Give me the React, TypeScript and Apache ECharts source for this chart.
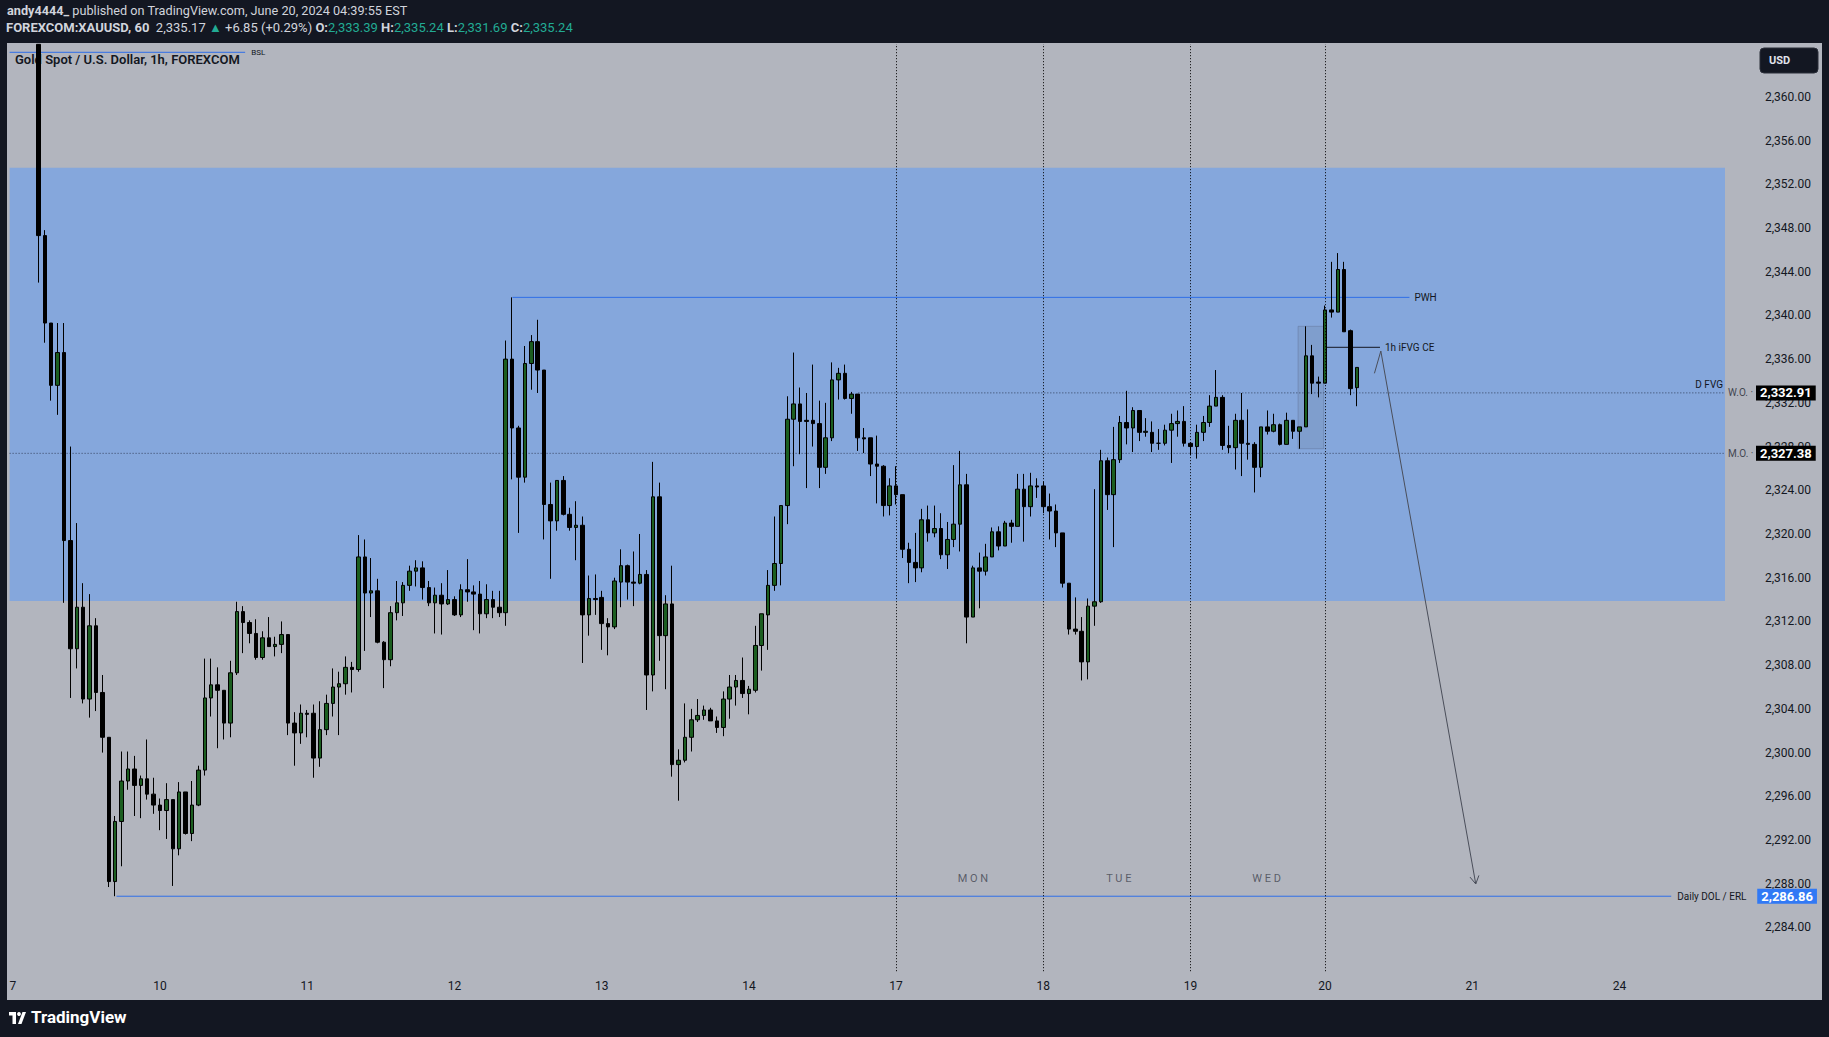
import React, { useEffect, useRef } from 'react';
import * as echarts from 'echarts';

// ---- hourly candles per session: [open, high, low, close] ----
const jun07 = [
  [2364.8, 2364.83, 2343.0, 2347.3], [2347.3, 2347.8, 2337.5, 2339.3], [2339.3, 2339.3, 2332.2, 2333.6],
  [2333.6, 2339.3, 2330.9, 2336.6], [2336.6, 2339.3, 2313.7, 2319.4], [2319.4, 2328.0, 2305.0, 2309.5],
  [2309.5, 2321.0, 2307.7, 2313.3], [2313.3, 2315.5, 2304.5, 2304.9], [2304.9, 2314.5, 2303.2, 2311.6],
  [2311.6, 2312.3, 2303.8, 2305.5], [2305.5, 2307.1, 2300.0, 2301.4], [2301.4, 2301.4, 2287.7, 2288.2],
  [2288.2, 2294.2, 2286.86, 2293.7], [2293.7, 2300.1, 2289.6, 2297.4], [2297.4, 2300.1, 2296.6, 2298.5],
  [2298.5, 2299.7, 2294.2, 2297.0], [2297.0, 2297.9, 2294.0, 2297.6], [2297.6, 2301.2, 2295.7, 2296.2],
  [2296.2, 2297.7, 2294.4, 2295.2],
];
const jun10 = [
  [2295.2, 2295.8, 2292.9, 2294.7], [2294.7, 2297.2, 2292.1, 2295.7], [2295.7, 2295.7, 2287.8, 2291.2],
  [2291.2, 2297.3, 2290.6, 2296.4], [2296.4, 2296.4, 2292.5, 2292.6], [2292.6, 2297.4, 2291.9, 2295.2],
  [2295.2, 2298.8, 2295.1, 2298.4], [2298.4, 2308.6, 2297.9, 2305.0], [2305.0, 2308.6, 2303.3, 2306.2],
  [2306.2, 2307.8, 2300.4, 2305.7], [2305.7, 2305.7, 2301.2, 2302.7], [2302.7, 2308.4, 2301.4, 2307.3],
  [2307.3, 2313.8, 2307.1, 2312.9], [2312.9, 2313.4, 2309.1, 2311.9], [2311.9, 2312.1, 2310.0, 2310.9],
  [2310.9, 2312.2, 2308.5, 2308.7], [2308.7, 2311.1, 2308.5, 2310.5], [2310.5, 2312.4, 2309.7, 2309.7],
  [2309.7, 2310.6, 2308.8, 2309.9], [2309.9, 2312.0, 2309.1, 2310.8], [2310.8, 2310.8, 2301.6, 2302.7],
  [2302.7, 2303.7, 2298.8, 2301.8], [2301.8, 2304.4, 2300.8, 2303.6],
];
const jun11 = [
  [2303.6, 2303.9, 2301.4, 2303.5], [2303.6, 2304.4, 2297.7, 2299.5], [2299.5, 2304.7, 2298.7, 2302.1],
  [2302.1, 2305.3, 2301.6, 2304.5], [2304.5, 2307.7, 2303.3, 2306.0], [2306.0, 2307.4, 2301.6, 2306.3],
  [2306.3, 2308.8, 2305.3, 2307.8], [2307.8, 2308.3, 2305.5, 2307.6], [2307.6, 2319.9, 2307.4, 2317.9],
  [2317.9, 2319.5, 2309.3, 2314.6], [2314.6, 2317.8, 2312.4, 2314.8], [2314.8, 2315.9, 2310.0, 2310.1],
  [2310.1, 2310.2, 2305.9, 2308.5], [2308.5, 2313.4, 2307.9, 2312.8], [2312.8, 2315.7, 2312.1, 2313.7],
  [2313.7, 2315.6, 2312.5, 2315.3], [2315.3, 2317.1, 2314.8, 2316.6], [2316.6, 2317.6, 2315.2, 2316.9],
  [2316.9, 2317.5, 2314.0, 2315.1], [2315.1, 2315.7, 2313.4, 2313.7], [2313.7, 2315.1, 2310.9, 2314.4],
  [2314.4, 2315.5, 2310.8, 2313.6], [2313.6, 2316.7, 2313.5, 2314.0],
];
const jun12 = [
  [2314.0, 2314.3, 2312.5, 2312.6], [2312.6, 2315.4, 2312.4, 2314.9], [2314.9, 2317.7, 2313.8, 2314.7],
  [2314.7, 2315.3, 2311.2, 2314.5], [2314.5, 2315.7, 2310.9, 2312.7], [2312.7, 2315.4, 2312.3, 2314.0],
  [2314.0, 2314.8, 2312.3, 2313.3], [2313.3, 2314.8, 2312.4, 2312.8], [2312.8, 2337.7, 2311.6, 2336.0],
  [2336.0, 2341.65, 2325.0, 2329.7], [2329.7, 2329.9, 2320.1, 2325.2], [2325.2, 2337.2, 2324.7, 2335.6],
  [2335.6, 2338.2, 2333.2, 2337.6], [2337.6, 2339.6, 2332.9, 2335.0], [2335.0, 2335.0, 2319.5, 2322.7],
  [2322.7, 2324.7, 2315.9, 2321.2], [2321.2, 2324.9, 2320.3, 2324.9], [2324.9, 2325.3, 2321.7, 2321.8],
  [2321.8, 2322.4, 2320.3, 2320.6], [2320.6, 2323.0, 2317.6, 2320.8], [2320.8, 2321.6, 2308.2, 2312.6],
  [2312.6, 2316.2, 2310.7, 2314.1], [2314.1, 2316.3, 2312.6, 2314.0],
];
const jun13 = [
  [2314.2, 2314.8, 2309.4, 2311.8], [2311.8, 2312.3, 2308.9, 2311.5], [2311.5, 2316.0, 2311.3, 2315.7],
  [2315.6, 2318.6, 2313.3, 2317.1], [2317.1, 2317.2, 2314.0, 2315.6], [2315.6, 2318.4, 2313.4, 2315.5],
  [2315.5, 2320.0, 2315.4, 2316.3], [2316.3, 2316.7, 2303.9, 2307.1], [2307.1, 2326.6, 2305.6, 2323.4],
  [2323.4, 2324.7, 2308.4, 2310.7], [2310.7, 2314.4, 2305.8, 2313.6], [2313.6, 2317.1, 2297.8, 2298.9],
  [2298.9, 2300.3, 2295.6, 2299.3], [2299.3, 2304.5, 2299.1, 2301.4], [2301.4, 2304.0, 2300.1, 2303.0],
  [2303.0, 2304.9, 2302.8, 2303.4], [2303.4, 2304.3, 2303.0, 2303.9], [2303.9, 2304.1, 2302.9, 2302.9],
  [2302.9, 2303.3, 2301.8, 2302.3], [2302.3, 2305.6, 2301.5, 2304.9], [2304.9, 2307.1, 2303.1, 2306.0],
  [2306.0, 2307.1, 2304.3, 2306.6], [2306.6, 2308.7, 2305.0, 2305.4],
];
const jun14 = [
  [2305.4, 2306.1, 2303.5, 2305.8], [2305.7, 2311.6, 2305.5, 2309.8], [2309.8, 2312.7, 2307.5, 2312.7],
  [2312.6, 2316.7, 2309.4, 2315.3], [2315.3, 2321.6, 2314.8, 2317.3], [2317.3, 2322.6, 2315.3, 2322.6],
  [2322.6, 2332.6, 2320.9, 2330.5], [2330.5, 2336.6, 2326.2, 2331.9], [2331.9, 2333.4, 2327.3, 2330.3],
  [2330.4, 2332.9, 2324.2, 2330.3], [2330.4, 2335.5, 2328.0, 2330.1], [2330.1, 2332.2, 2324.2, 2326.1],
  [2326.1, 2332.0, 2325.5, 2328.8], [2328.8, 2335.7, 2328.5, 2334.1], [2334.1, 2335.2, 2332.3, 2334.7],
  [2334.7, 2335.5, 2332.3, 2332.4], [2332.4, 2333.0, 2331.0, 2332.8], [2332.8, 2332.8, 2327.6, 2328.8],
  [2328.8, 2329.7, 2327.4, 2328.7], [2328.8, 2328.8, 2325.3, 2326.4], [2326.4, 2329.0, 2322.8, 2326.2],
  [2326.2, 2326.3, 2321.6, 2322.6], [2322.6, 2325.1, 2321.7, 2324.4],
];
const jun17 = [
  [2324.4, 2326.2, 2322.7, 2323.6], [2323.6, 2323.6, 2317.8, 2318.6], [2318.6, 2319.2, 2315.5, 2317.4],
  [2317.4, 2320.1, 2315.6, 2316.9], [2316.9, 2322.3, 2316.5, 2321.3], [2321.3, 2322.6, 2319.3, 2320.1],
  [2320.1, 2322.6, 2319.7, 2320.5], [2320.5, 2321.9, 2317.7, 2318.1], [2318.1, 2321.1, 2316.8, 2319.5],
  [2319.5, 2326.3, 2318.8, 2320.9], [2320.9, 2327.6, 2318.4, 2324.5], [2324.5, 2325.5, 2310.0, 2312.4],
  [2312.4, 2317.1, 2312.4, 2316.9], [2316.9, 2318.3, 2313.2, 2316.6], [2316.6, 2319.1, 2316.2, 2317.9],
  [2317.9, 2320.6, 2317.9, 2320.2], [2320.2, 2320.7, 2318.5, 2318.9], [2318.9, 2321.2, 2318.9, 2321.0],
  [2321.0, 2321.3, 2319.2, 2320.7], [2320.7, 2325.5, 2320.7, 2324.1], [2324.1, 2325.5, 2319.3, 2322.5],
  [2322.5, 2325.6, 2321.6, 2324.4], [2324.4, 2325.1, 2323.3, 2324.3],
];
const jun18 = [
  [2324.4, 2324.8, 2321.9, 2322.5], [2322.5, 2323.7, 2319.5, 2322.1], [2322.1, 2322.7, 2318.8, 2320.1],
  [2320.1, 2320.1, 2315.1, 2315.5], [2315.5, 2315.5, 2310.8, 2311.3], [2311.3, 2314.2, 2310.8, 2311.1],
  [2311.1, 2312.4, 2306.6, 2308.3], [2308.3, 2314.1, 2306.7, 2313.4], [2313.4, 2324.1, 2311.6, 2313.8],
  [2313.8, 2327.7, 2313.7, 2326.7], [2326.7, 2327.0, 2322.2, 2323.6], [2323.6, 2329.8, 2318.8, 2326.8],
  [2326.8, 2330.8, 2326.5, 2330.2], [2330.2, 2333.1, 2328.2, 2329.7], [2329.7, 2331.6, 2327.5, 2331.3],
  [2331.3, 2331.3, 2328.5, 2329.3], [2329.3, 2330.6, 2328.9, 2329.4], [2329.3, 2330.3, 2327.5, 2328.3],
  [2328.3, 2329.6, 2327.7, 2328.3], [2328.3, 2330.0, 2328.1, 2329.5], [2329.5, 2331.0, 2326.5, 2330.1],
  [2330.1, 2331.3, 2328.9, 2330.3], [2330.3, 2331.7, 2328.0, 2328.3],
];
const jun19 = [
  [2328.3, 2328.4, 2327.2, 2328.0], [2328.0, 2330.0, 2326.9, 2329.3], [2329.3, 2330.8, 2328.5, 2330.2],
  [2330.2, 2332.7, 2329.8, 2331.7], [2331.7, 2335.0, 2331.7, 2332.5], [2332.5, 2332.7, 2327.7, 2328.1],
  [2328.1, 2329.9, 2327.4, 2327.9], [2327.9, 2331.0, 2325.9, 2330.4], [2330.4, 2332.9, 2325.3, 2328.3],
  [2328.3, 2331.4, 2326.8, 2328.2], [2328.2, 2328.4, 2323.8, 2326.1], [2326.1, 2329.8, 2325.2, 2329.8],
  [2329.8, 2331.3, 2329.1, 2329.4], [2329.4, 2331.0, 2329.3, 2330.0], [2330.0, 2330.1, 2328.1, 2328.2],
  [2328.2, 2331.1, 2328.2, 2330.4], [2330.4, 2330.4, 2328.7, 2329.4], [2329.4, 2329.8, 2327.8, 2329.8],
  [2329.8, 2339.0, 2329.8, 2336.3], [2336.3, 2337.3, 2332.8, 2333.8], [2333.9, 2334.4, 2332.5, 2333.8],
];
const jun20 = [
  [2333.8, 2340.9, 2333.8, 2340.5], [2340.5, 2344.9, 2339.8, 2340.3], [2340.3, 2345.7, 2340.3, 2344.2],
  [2344.2, 2344.9, 2338.5, 2338.5], [2338.6, 2338.7, 2332.7, 2333.3], [2333.39, 2335.24, 2331.69, 2335.24],
];
const sessions = [jun07, jun10, jun11, jun12, jun13, jun14, jun17, jun18, jun19, jun20];

// ---- time scale ----
const firstBar = 4;
const totalBars = 268;
const dayLabels = ['7', '10', '11', '12', '13', '14', '17', '18', '19', '20', '21', '24'];
const dayStart = [0, 23, 46, 69, 92, 115, 138, 161, 184, 205, 228, 251];
const sessionBreaks = [138, 161, 184, 205];
const weekdayNames = ['M O N', 'T U E', 'W E D'];
const weekdayPos = [150.0, 172.8, 195.9];
const weekdayPrice = 2288.5;

// ---- price scale ----
const yMin = 2280;
const yMax = 2364.83;
const yStep = 4;
const yLabelLow = 2284;
const yLabelHigh = 2360;

// ---- drawings (bar index, price) ----
const dailyFvg = [2353.5, 2313.87];
const bslLevel = 2364.07;
const bslSpan = [-0.5, 36.3];
const pwhLevel = 2341.65;
const pwhSpan = [78.05, 218.2];
const dolLevel = 2286.86;
const dolSpan = [16.2, 259.1];
const weeklyOpen = 2332.91;
const woSpan = [132.1, 267.5];
const monthlyOpen = 2327.38;
const moSpan = [-0.5, 267.5];
const ceLevel = 2337.08;
const ceSpan = [205.0, 213.6];
const ifvgBox = [[200.8, 2339.0], [204.8, 2327.8]];
const arrowShaft = [[212.73, 2334.7], [213.73, 2336.74], [228.56, 2287.98]];
const arrowHead = [[227.66, 2288.61], [228.56, 2287.98], [229.05, 2288.76]];

// ---- header quote ----
const lastPrice = 2335.17;
const change = 6.85;
const changePct = 0.29;

const fmt = (v: number) =>
  v.toLocaleString('en-US', { minimumFractionDigits: 2, maximumFractionDigits: 2 });

function App() {
  const ref = useRef<HTMLDivElement>(null);

  useEffect(() => {
    const chart = echarts.init(ref.current!, null, { renderer: 'svg' });
    const bars: number[][] = ([] as number[][]).concat(...sessions);
    const candles: any[] = [];
    for (let i = 0; i < firstBar; i++) candles.push(['-', '-', '-', '-']);
    bars.forEach(([o, h, l, c]) => candles.push([o, c, l, h]));
    const cats = Array.from({ length: totalBars }, (_, i) => String(i));
    const last = jun20[jun20.length - 1];

    const hline = (span: number[], level: number, color: string, type: any, endLabel?: any) => ({
      type: 'line',
      xAxisIndex: 1,
      yAxisIndex: 0,
      data: [[span[0], level], [span[1], level]],
      symbol: 'none',
      silent: true,
      z: 2,
      lineStyle: { color, width: 1, type },
      endLabel: endLabel || { show: false },
    });

    const tagRich = (bg: string) => ({
      b: {
        backgroundColor: bg,
        color: '#ffffff',
        fontSize: 13,
        fontWeight: 'bold',
        lineHeight: 14,
        padding: [1, 4, 1, 4],
        fontFamily: 'Roboto',
      },
    });

    const option: any = {
      animation: false,
      backgroundColor: 'transparent',
      textStyle: { fontFamily: 'Roboto, sans-serif' },
      grid: { left: 9.6, right: 104, top: 44, bottom: 65.8, containLabel: false },
      xAxis: [
        {
          type: 'category',
          data: cats,
          boundaryGap: true,
          axisLine: { show: false },
          axisTick: { show: false },
          splitLine: { show: false },
          axisLabel: {
            interval: (i: number) => dayStart.indexOf(i) >= 0,
            formatter: (_v: string, i: number) => {
              const k = dayStart.indexOf(i);
              return k >= 0 ? dayLabels[k] : '';
            },
            color: '#131722',
            fontSize: 12,
            margin: 9,
          },
        },
        { type: 'value', show: false, min: -0.5, max: totalBars - 0.5 },
      ],
      yAxis: {
        type: 'value',
        position: 'right',
        min: yMin,
        max: yMax,
        interval: yStep,
        axisLine: { show: false },
        axisTick: { show: false },
        splitLine: { show: false },
        axisLabel: {
          margin: 40,
          color: '#131722',
          fontSize: 12,
          showMinLabel: false,
          showMaxLabel: false,
          formatter: (v: number) =>
            v >= yLabelLow && v <= yLabelHigh && Math.abs(v % yStep) < 1e-6 ? fmt(v) : '',
        },
      },
      series: [
        {
          type: 'line',
          xAxisIndex: 1,
          data: [],
          silent: true,
          markArea: {
            silent: true,
            data: [
              [
                {
                  yAxis: dailyFvg[0],
                  itemStyle: { color: '#85a7dc' },
                  label: {
                    show: true,
                    position: 'insideRight',
                    distance: 2,
                    formatter: 'D FVG',
                    fontSize: 10,
                    color: '#131722',
                  },
                },
                { yAxis: dailyFvg[1] },
              ],
              [
                {
                  xAxis: ifvgBox[0][0],
                  yAxis: ifvgBox[0][1],
                  itemStyle: {
                    color: 'rgba(110,130,160,0.25)',
                    borderColor: 'rgba(95,115,150,0.45)',
                    borderWidth: 1,
                  },
                  label: { show: false },
                },
                { xAxis: ifvgBox[1][0], yAxis: ifvgBox[1][1] },
              ],
            ],
          },
        },
        hline(moSpan, monthlyOpen, '#34425e', [1, 2], {
          show: true,
          distance: 3,
          formatter: '{t|M.O. ·}{b|' + fmt(monthlyOpen) + '}',
          rich: { t: { fontSize: 10, color: '#434651', width: 28 }, ...tagRich('#000000') },
        }),
        hline(woSpan, weeklyOpen, '#34425e', [1, 2], {
          show: true,
          distance: 3,
          formatter: '{t|W.O. ·}{b|' + fmt(weeklyOpen) + '}',
          rich: { t: { fontSize: 10, color: '#434651', width: 28 }, ...tagRich('#000000') },
        }),
        hline(bslSpan, bslLevel, '#2f6fe8', 'solid', {
          show: true,
          distance: 6,
          formatter: 'BSL',
          fontSize: 8,
          color: '#131722',
        }),
        hline(pwhSpan, pwhLevel, '#2f6fe8', 'solid', {
          show: true,
          distance: 5,
          formatter: 'PWH',
          fontSize: 10,
          color: '#131722',
        }),
        hline(dolSpan, dolLevel, '#2f6fe8', 'solid', {
          show: true,
          distance: 6,
          formatter: '{t|Daily DOL / ERL}{b|' + fmt(dolLevel) + '}',
          rich: { t: { fontSize: 10, color: '#131722', width: 80 }, ...tagRich('#3179f5') },
        }),
        hline(ceSpan, ceLevel, '#131722', 'solid', {
          show: true,
          distance: 5,
          formatter: '1h iFVG CE',
          fontSize: 10,
          color: '#131722',
        }),
        {
          type: 'line',
          xAxisIndex: 1,
          data: arrowShaft,
          symbol: 'none',
          silent: true,
          z: 4,
          lineStyle: { color: '#4a4e5a', width: 1 },
        },
        {
          type: 'line',
          xAxisIndex: 1,
          data: arrowHead,
          symbol: 'none',
          silent: true,
          z: 4,
          lineStyle: { color: '#4a4e5a', width: 1 },
        },
        {
          type: 'scatter',
          xAxisIndex: 1,
          symbolSize: 1,
          silent: true,
          itemStyle: { color: 'transparent' },
          data: weekdayNames.map((n, i) => ({ name: n, value: [weekdayPos[i], weekdayPrice] })),
          label: {
            show: true,
            position: 'inside',
            formatter: '{b}',
            fontSize: 11,
            color: '#434651',
          },
        },
        {
          type: 'candlestick',
          xAxisIndex: 0,
          yAxisIndex: 0,
          data: candles,
          clip: true,
          z: 3,
          barWidth: 4,
          silent: true,
          itemStyle: {
            color: '#1b5e20',
            color0: '#000000',
            borderColor: '#000000',
            borderColor0: '#000000',
            borderWidth: 1,
          },
          markLine: {
            silent: true,
            symbol: ['none', 'none'],
            label: { show: false },
            lineStyle: { color: '#000000', width: 1, type: [1, 2] },
            data: sessionBreaks.map((i) => ({ xAxis: i })),
          },
        },
      ],
      graphic: [
        {
          type: 'text',
          left: 7,
          top: 4,
          style: {
            text: '{b|andy4444_}{n| published on TradingView.com, June 20, 2024 04:39:55 EST}',
            rich: {
              b: { fill: '#d1d4dc', fontSize: 12.7, fontWeight: 'bold', fontFamily: 'Roboto' },
              n: { fill: '#d1d4dc', fontSize: 12.7, fontFamily: 'Roboto' },
            },
          },
        },
        {
          type: 'text',
          left: 6,
          top: 21,
          style: {
            text:
              '{b|FOREXCOM:XAUUSD, 60}{n|  ' + fmt(lastPrice) + ' }{g|▲}{n| +' + change.toFixed(2) +
              ' (+' + changePct.toFixed(2) + '%) }{b|O:}{g|' + fmt(last[0]) + '}{n| }{b|H:}{g|' +
              fmt(last[1]) + '}{n| }{b|L:}{g|' + fmt(last[2]) + '}{n| }{b|C:}{g|' + fmt(last[3]) + '}',
            rich: {
              b: { fill: '#d1d4dc', fontSize: 13, fontWeight: 'bold', fontFamily: 'Roboto' },
              n: { fill: '#d1d4dc', fontSize: 13, fontFamily: 'Roboto' },
              g: { fill: '#22ab94', fontSize: 13, fontFamily: 'Roboto' },
            },
          },
        },
        {
          type: 'text',
          left: 15,
          top: 53,
          z: 0,
          style: {
            text: 'Gold Spot / U.S. Dollar, 1h, FOREXCOM',
            fill: '#131722',
            font: '600 13px Roboto',
          },
        },
        {
          type: 'rect',
          shape: { x: 1760, y: 48, width: 58, height: 25, r: 4 },
          style: { fill: '#131722', stroke: '#2a2e39', lineWidth: 1 },
        },
        {
          type: 'text',
          left: 1769,
          top: 55,
          style: { text: 'USD', fill: '#e0e3eb', font: 'bold 11px Roboto' },
        },
        {
          type: 'polygon',
          shape: { points: [[9, 1012], [16, 1012], [16, 1024], [12.5, 1024], [12.5, 1015.5], [9, 1015.5]] },
          style: { fill: '#ffffff' },
        },
        { type: 'circle', shape: { cx: 19, cy: 1014, r: 1.9 }, style: { fill: '#ffffff' } },
        {
          type: 'polygon',
          shape: { points: [[22.5, 1012], [26, 1012], [21.5, 1024], [18, 1024]] },
          style: { fill: '#ffffff' },
        },
        {
          type: 'text',
          left: 31,
          top: 1008,
          style: { text: 'TradingView', fill: '#ffffff', font: 'bold 17px Roboto' },
        },
      ],
    };

    chart.setOption(option);
    return () => chart.dispose();
  }, []);

  return (
    <div style={{ position: 'fixed', left: 0, top: 0, width: 1829, height: 1037, background: '#131722' }}>
      <div style={{ position: 'absolute', left: 7, top: 43, width: 1815, height: 957, background: '#b2b5be' }} />
      <div ref={ref} style={{ position: 'absolute', left: 0, top: 0, width: 1829, height: 1037 }} />
    </div>
  );
}

export default App;
